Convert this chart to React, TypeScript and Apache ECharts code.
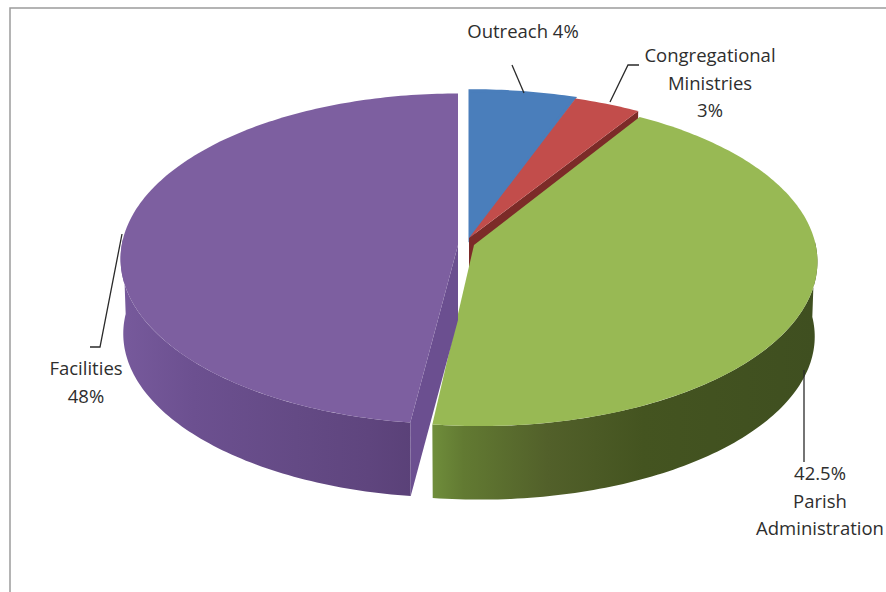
import React, { useEffect, useRef } from "react";
import * as echarts from "echarts";

const categories = ["Outreach", "Congregational Ministries", "Parish Administration", "Facilities"];
// Printed on the chart
const printedLabels = ["Outreach 4%", "Congregational\nMinistries\n3%", "42.5%\nParish\nAdministration", "Facilities\n48%"];
// Share of the circle each slice visibly takes
const sliceShares = [5.4, 3.4, 43.2, 48];

const topColors = ["#4a7ebb", "#c24d4b", "#98b954", "#7d5fa0"];
const topStrokeWidths = [3, 0, 0, 0];
const cutColors = ["#7c2b28", "#7c2b28", "#4c5f26", "#6b4f90"];
const wallStops = [
  [],
  [],
  [[0, "#6f8d3b"], [0.08, "#627a32"], [0.3, "#52602a"], [0.55, "#445420"], [1, "#3f4f20"]],
  [[0, "#775a9c"], [0.25, "#6c5090"], [0.6, "#644a85"], [0.85, "#5f457e"], [1, "#5a4178"]],
];
const centres = [[470, 238], [470, 240], [480, 242], [458, 239]];
const tips = [[470, 238], [469, 238], [474, 245], [458, 245]];
const radiiX = [349, 353, 335, 335];
const radiiY = [165, 167, 162, 163];
const wallRanges = [[0, 0], [0, 0], [433, 815], [120, 413]];

const PERSPECTIVE = 0.12;
const DEPTH = 75;
const BOTTOM_SCALE = 0.992;

const labelAnchors = [[523, 17], [710, 41], [820, 459], [86, 354]];
const leaderLines = [
  [[512, 65], [524, 93]],
  [[639, 65], [628, 65], [610, 102]],
  [[804, 370], [804, 462]],
  [[90, 347], [100, 347], [122, 234]],
];

function rimPoint(i: number, deg: number, drop = false): number[] {
  const t = (deg * Math.PI) / 180;
  const u = Math.sin(t);
  const v = Math.cos(t);
  const k = 1 / (1 + PERSPECTIVE * v);
  const s = drop ? BOTTOM_SCALE : 1;
  return [
    centres[i][0] + radiiX[i] * u * k * s,
    centres[i][1] - radiiY[i] * v * k * s + (drop ? DEPTH : 0),
  ];
}

function arc(i: number, a: number, b: number, drop = false): number[][] {
  const pts: number[][] = [];
  const n = Math.max(2, Math.ceil(Math.abs(b - a)));
  for (let j = 0; j <= n; j++) pts.push(rimPoint(i, a + ((b - a) * j) / n, drop));
  return pts;
}

function radialWall(i: number, deg: number): number[][] {
  const top = rimPoint(i, deg);
  const bottom = rimPoint(i, deg, true);
  const a = tips[i];
  return [a, top, bottom, [a[0], a[1] + DEPTH]];
}

const total = sliceShares.reduce((s, v) => s + v, 0);
const cumulative = sliceShares.map((_, i) =>
  sliceShares.slice(0, i).reduce((s, v) => s + v, 0)
);

function renderSlice(params: any, api: any) {
  const i = params.dataIndex;
  const start = (cumulative[i] / total) * 360;
  const end = start + (api.value(1) / total) * 360;
  const children: any[] = [];

  const from = Math.max(start, 90);
  const to = Math.min(end, 270);
  if (to > from) {
    const outer = arc(i, from, to);
    const lower = arc(i, from, to, true).reverse();
    children.push({
      type: "polygon",
      shape: { points: outer.concat(lower) },
      style: {
        fill: new echarts.graphic.LinearGradient(
          wallRanges[i][0], 0, wallRanges[i][1], 0,
          wallStops[i].map((s: any) => ({ offset: s[0], color: s[1] })),
          true
        ),
      },
    });
  }
  if (end < 180 && i > 0) {
    children.push({ type: "polygon", shape: { points: radialWall(i, end) }, style: { fill: cutColors[i] } });
  }
  if (start > 180) {
    children.push({ type: "polygon", shape: { points: radialWall(i, start) }, style: { fill: cutColors[i] } });
  }
  children.push({
    type: "polygon",
    shape: { points: [tips[i]].concat(arc(i, start, end)) },
    style: {
      fill: topColors[i],
      stroke: topStrokeWidths[i] ? topColors[i] : "none",
      lineWidth: topStrokeWidths[i],
    },
  });
  return { type: "group", children };
}

export default function App() {
  const ref = useRef<HTMLDivElement>(null);
  useEffect(() => {
    const chart = echarts.init(ref.current!, null, { renderer: "svg" });
    chart.setOption({
      animation: false,
      backgroundColor: "#ffffff",
      graphic: [
        {
          type: "polyline",
          shape: { points: [[10, 592], [10, 8], [886, 8]] },
          style: { stroke: "#9c9c9c", lineWidth: 1.5, fill: "none" },
          z: 1,
        },
        ...leaderLines.map((points) => ({
          type: "polyline",
          shape: { points },
          style: { stroke: "#2a2a2a", lineWidth: 1.3, fill: "none" },
          z: 10,
        })),
        ...printedLabels.map((text, i) => ({
          type: "text",
          x: labelAnchors[i][0],
          y: labelAnchors[i][1],
          style: {
            text,
            fill: "#2e2e2e",
            font: "18.5px 'Open Sans'",
            lineHeight: 27.5,
            align: "center",
            verticalAlign: "top",
          },
          z: 10,
        })),
      ],
      series: [
        {
          type: "custom",
          coordinateSystem: "none",
          renderItem: renderSlice,
          silent: true,
          data: categories.map((name, i) => ({ name, value: [i, sliceShares[i]] })),
        },
      ],
    });
    return () => chart.dispose();
  }, []);
  return <div ref={ref} style={{ position: "fixed", left: 0, top: 0, width: 886, height: 592 }} />;
}
